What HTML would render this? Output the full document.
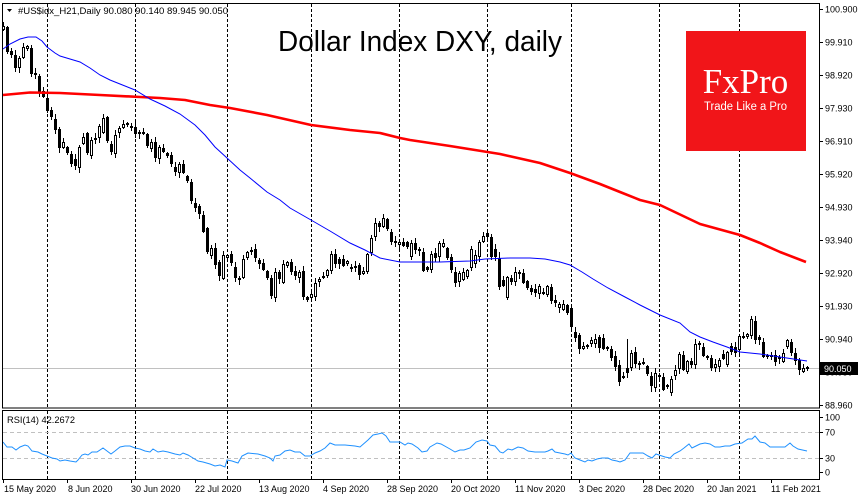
<!DOCTYPE html>
<html><head><meta charset="utf-8">
<style>
html,body{margin:0;padding:0;background:#fff;}
#c{width:860px;height:500px;overflow:hidden;position:relative;}
svg text{font-family:"Liberation Sans",sans-serif;}
</style></head><body>
<div id="c">
<svg xmlns="http://www.w3.org/2000/svg" width="860" height="500" viewBox="0 0 860 500">
<rect x="0" y="0" width="860" height="500" fill="#fff"/>

<!-- vertical dashed grid -->
<g stroke="#000" stroke-width="1" stroke-dasharray="3,2" shape-rendering="crispEdges">
<line x1="47.5" y1="4" x2="47.5" y2="408"/><line x1="47.5" y1="411" x2="47.5" y2="479"/>
<line x1="135.5" y1="4" x2="135.5" y2="408"/><line x1="135.5" y1="411" x2="135.5" y2="479"/>
<line x1="227.5" y1="4" x2="227.5" y2="408"/><line x1="227.5" y1="411" x2="227.5" y2="479"/>
<line x1="311.5" y1="4" x2="311.5" y2="408"/><line x1="311.5" y1="411" x2="311.5" y2="479"/>
<line x1="399.5" y1="4" x2="399.5" y2="408"/><line x1="399.5" y1="411" x2="399.5" y2="479"/>
<line x1="487.5" y1="4" x2="487.5" y2="408"/><line x1="487.5" y1="411" x2="487.5" y2="479"/>
<line x1="571.5" y1="4" x2="571.5" y2="408"/><line x1="571.5" y1="411" x2="571.5" y2="479"/>
<line x1="659.5" y1="4" x2="659.5" y2="408"/><line x1="659.5" y1="411" x2="659.5" y2="479"/>
<line x1="739.5" y1="4" x2="739.5" y2="408"/><line x1="739.5" y1="411" x2="739.5" y2="479"/>
</g>

<!-- RSI levels -->
<g stroke="#c0c0c0" stroke-width="1" stroke-dasharray="4,3" shape-rendering="crispEdges">
<line x1="3" y1="432.5" x2="819" y2="432.5"/>
<line x1="3" y1="458.5" x2="819" y2="458.5"/>
</g>

<!-- current price line -->
<line x1="3" y1="368.5" x2="819" y2="368.5" stroke="#c0c0c0" stroke-width="1" shape-rendering="crispEdges"/>

<!-- title -->
<text x="278" y="51" font-size="29" textLength="284" lengthAdjust="spacingAndGlyphs" fill="#000">Dollar Index DXY, daily</text>

<!-- candles -->
<g id="cd" shape-rendering="crispEdges"></g>

<!-- moving averages -->
<polyline fill="none" stroke="#ff0000" stroke-width="2.6" stroke-linejoin="round" points="3,95 30,92.5 60,93 100,95 140,97 160,98 185,100 210,105 230,108 267,115 311,125 350,130 380,133 400,138 410,140 450,146 500,154 540,163 570,173 600,184 620,192 640,200 660,205 700,224 740,235 760,243 780,252 806,262"/>
<polyline fill="none" stroke="#0000ff" stroke-width="1" points="3,49 10,44 20,39 28,37 36,37 42,41 47,47 55,53 60,56 70,59 80,62 90,68 100,75 110,80 120,84 135,90 150,99 165,106 180,114 195,125 205,135 215,147 227,158 240,170 250,178 267,192 280,200 290,208 311,220 330,231 350,243 365,250 380,258 400,262 440,262 470,261 485,259 510,258 530,258 545,259 560,262 570,265 582,272 593,279 608,288 625,297 640,305 660,315 680,323 690,332 700,337 713,342 727,347 740,352 760,354 780,357 807,361"/>

<!-- RSI line -->
<polyline fill="none" stroke="#1e90ff" stroke-width="1" points="3,442 7,447 12,447 16,450 20,447 25,445 28,446 32,451 38,452 42,454 47,456 52,458 57,459 60,461 65,460 70,461 76,462 78,460 82,455 85,454 88,455 92,452 97,452 103,448 107,451 111,454 115,451 120,447 125,446 130,446 135,448 140,449 145,451 150,452 153,449 158,452 163,451 168,452 175,454 180,455 183,453 188,455 193,458 198,461 203,462 210,464 215,466 220,465 225,467 227,460 232,461 238,463 242,456 248,453 258,454 265,456 270,458 273,461 275,456 280,455 285,451 290,450 295,452 300,452 305,456 310,456 315,453 320,451 325,448 330,443 335,445 345,445 355,446 360,447 368,440 373,435 378,434 382,433 386,436 390,442 395,442 400,442 405,445 408,443 412,444 418,448 422,452 427,451 430,447 437,443 441,444 450,449 455,452 460,450 464,450 470,448 476,442 482,440 487,441 490,445 495,446 500,452 503,453 508,449 512,450 518,447 523,448 528,451 535,452 545,452 548,451 552,449 555,452 560,453 565,454 568,455 571,453 575,458 580,460 585,462 588,460 592,461 597,459 602,458 608,458 612,460 617,461 620,462 625,460 630,453 635,453 643,453 648,456 652,458 656,454 662,456 665,457 670,458 674,454 680,451 684,448 689,444 692,448 696,446 700,444 705,443 710,444 715,447 720,447 725,446 730,446 735,444 742,443 748,439 752,439 755,436 760,442 765,443 770,447 780,447 785,447 790,443 793,446 798,449 807,451"/>

<!-- frames -->
<g fill="none" stroke="#000" stroke-width="1" shape-rendering="crispEdges">
<rect x="2.5" y="3.5" width="817" height="404.5"/>
<rect x="2.5" y="410.5" width="817" height="69"/>
</g>

<!-- right axis ticks -->
<g stroke="#000" stroke-width="1" shape-rendering="crispEdges">
<line x1="819" y1="9.5" x2="823" y2="9.5"/>
<line x1="819" y1="42.5" x2="823" y2="42.5"/>
<line x1="819" y1="75.5" x2="823" y2="75.5"/>
<line x1="819" y1="108.5" x2="823" y2="108.5"/>
<line x1="819" y1="141.5" x2="823" y2="141.5"/>
<line x1="819" y1="174.5" x2="823" y2="174.5"/>
<line x1="819" y1="207.5" x2="823" y2="207.5"/>
<line x1="819" y1="240.5" x2="823" y2="240.5"/>
<line x1="819" y1="273.5" x2="823" y2="273.5"/>
<line x1="819" y1="306.5" x2="823" y2="306.5"/>
<line x1="819" y1="339.5" x2="823" y2="339.5"/>
<line x1="819" y1="405.5" x2="823" y2="405.5"/>
<line x1="819" y1="417.5" x2="823" y2="417.5"/>
<line x1="819" y1="432.5" x2="823" y2="432.5"/>
<line x1="819" y1="458.5" x2="823" y2="458.5"/>
<line x1="819" y1="472.5" x2="823" y2="472.5"/>
</g>

<!-- bottom ticks -->
<g stroke="#000" stroke-width="1" shape-rendering="crispEdges">
<line x1="3.5" y1="479" x2="3.5" y2="483"/>
<line x1="67.5" y1="479" x2="67.5" y2="483"/>
<line x1="131.5" y1="479" x2="131.5" y2="483"/>
<line x1="195.5" y1="479" x2="195.5" y2="483"/>
<line x1="259.5" y1="479" x2="259.5" y2="483"/>
<line x1="323.5" y1="479" x2="323.5" y2="483"/>
<line x1="387.5" y1="479" x2="387.5" y2="483"/>
<line x1="451.5" y1="479" x2="451.5" y2="483"/>
<line x1="515.5" y1="479" x2="515.5" y2="483"/>
<line x1="579.5" y1="479" x2="579.5" y2="483"/>
<line x1="643.5" y1="479" x2="643.5" y2="483"/>
<line x1="707.5" y1="479" x2="707.5" y2="483"/>
<line x1="771.5" y1="479" x2="771.5" y2="483"/>
</g>

<!-- price axis labels -->
<g font-size="9" fill="#000">
<text x="825" y="12.5">100.900</text>
<text x="825" y="45.5">99.910</text>
<text x="825" y="78.5">98.920</text>
<text x="825" y="111.5">97.930</text>
<text x="825" y="144.5">96.910</text>
<text x="825" y="177.5">95.920</text>
<text x="825" y="210.5">94.930</text>
<text x="825" y="243.5">93.940</text>
<text x="825" y="276.5">92.920</text>
<text x="825" y="309.5">91.930</text>
<text x="825" y="342.5">90.940</text>
<text x="825" y="375.5">89.950</text>
<text x="825" y="408.5">88.960</text>
<text x="825" y="420.5">100</text>
<text x="825" y="435.5">70</text>
<text x="825" y="461.5">30</text>
<text x="825" y="475.5">0</text>
</g>

<!-- current price box -->
<rect x="820" y="362" width="38" height="13" fill="#000"/>
<text x="824" y="372" font-size="9" fill="#fff">90.050</text>

<!-- date labels -->
<g font-size="9" fill="#000">
<text x="4" y="492">15 May 2020</text>
<text x="68" y="492">8 Jun 2020</text>
<text x="131" y="492">30 Jun 2020</text>
<text x="195" y="492">22 Jul 2020</text>
<text x="259" y="492">13 Aug 2020</text>
<text x="323" y="492">4 Sep 2020</text>
<text x="387" y="492">28 Sep 2020</text>
<text x="451" y="492">20 Oct 2020</text>
<text x="515" y="492">11 Nov 2020</text>
<text x="579" y="492">3 Dec 2020</text>
<text x="643" y="492">28 Dec 2020</text>
<text x="707" y="492">20 Jan 2021</text>
<text x="771" y="492">11 Feb 2021</text>
</g>

<!-- header -->
<polygon points="7,9 12,9 9.5,12" fill="#000"/>
<text x="18" y="14" font-size="9" fill="#000" textLength="210" lengthAdjust="spacingAndGlyphs">#US$idx_H21,Daily  90.080 90.140 89.945 90.050</text>
<text x="7" y="423" font-size="9" fill="#000" textLength="68" lengthAdjust="spacingAndGlyphs">RSI(14) 42.2672</text>

<!-- logo -->
<rect x="686" y="31" width="120" height="120" fill="#f11519"/>
<text x="745.5" y="93" font-size="35" fill="#fff" text-anchor="middle" style="font-family:'Liberation Serif',serif">FxPro</text>
<text x="704" y="110" font-size="11.5" fill="#fff" textLength="83" lengthAdjust="spacingAndGlyphs">Trade Like a Pro</text>
</svg>
</div>
<script>
(function(){
var d="w26,30 b27,52 b51,55 b55,68 w58,68 w47,58 w46,49 b48,74 b73,75 b76,92 b91,97 b98,111 b110,117 b119,130 b129,148 w142,148 b147,153 b154,164 b159,166 w147,168 w137,144 b133,153 w140,156 w138,140 w126,138 w118,133 b117,141 b144,152 w135,154 w128,133 w124,128 b123,125 w126,128 b127,134 w132,134 b132,134 b134,146 w142,149 b142,158 w147,159 b148,152 b153,156 b155,164 b167,172 w164,173 b164,173 b176,181 b182,201 b203,208 b206,214 b215,232 b228,252 w248,256 b248,265 b262,276 w255,279 w255,258 b254,263 b267,278 b278,280 w259,278 w252,258 w250,252 b249,258 b260,264 b263,270 b271,278 b278,296 w272,298 b272,279 w264,283 w262,266 b262,272 b271,276 w272,278 b271,297 b297,300 w294,298 w283,297 w279,282 b276,278 w270,276 w254,271 b254,264 b259,264 b259,266 w261,264 b267,269 b266,268 b265,275 w271,274 w254,272 w238,253 w223,237 b223,227 w218,227 b219,229 b232,242 b241,243 w242,245 b242,246 b242,247 w243,257 b243,250 b249,251 b252,271 b267,270 w254,270 b253,258 w243,257 w243,247 b248,258 b257,270 b272,283 w273,282 w272,280 w270,277 w249,268 w255,264 w242,257 w236,242 b233,237 b237,257 b249,257 b258,287 b280,286 w277,298 b278,282 w272,282 b272,274 b273,283 b281,288 b288,292 b289,293 w286,294 w292,294 w286,295 b287,301 b300,303 w304,308 w304,310 b305,313 b308,327 b332,338 b335,349 w346,349 w345,347 w340,344 w339,344 b337,348 b338,349 b347,349 b349,358 b356,367 b365,382 b376,378 b368,373 w353,368 b352,364 w363,365 b362,364 b366,374 b376,386 w373,388 b375,377 b377,390 b385,387 w379,393 w370,376 w354,369 b355,370 w361,372 b361,365 w344,365 b343,345 b347,356 w356,358 b358,368 w364,368 w360,367 b354,359 w352,365 b346,352 b347,353 w336,350 b336,338 w334,337 w319,336 b321,340 b337,340 b342,357 b355,357 b355,357 b355,362 b357,359 w353,362 w340,347 b342,353 b353,361 b360,370 w368,372 b367,369".split(" ");
var ov={627:[339,378],303:[266,300],499:[252,290],619:[360,386],275:[268,302],651:[372,392]};
var s="";
for(var i=0;i<d.length;i++){
 var x=3+4*i,c=d[i].charAt(0),p=d[i].slice(1).split(","),t=+p[0],b=+p[1];
 var h1=1+((i*7+3)%5),h2=1+((i*11+5)%5);
 var hi=t-h1,lo=b+h2;
 if(ov[x]){hi=ov[x][0];lo=ov[x][1];}
 s+='<line x1="'+(x+0.5)+'" y1="'+hi+'" x2="'+(x+0.5)+'" y2="'+lo+'" stroke="#000" stroke-width="1"/>';
 if(c==='b'){
  s+='<rect x="'+(x-1)+'" y="'+t+'" width="3" height="'+Math.max(1,b-t)+'" fill="#000"/>';
 }else{
  if(b-t<2){s+='<rect x="'+(x-1)+'" y="'+t+'" width="3" height="1" fill="#000"/>';}
  else s+='<rect x="'+(x-0.5)+'" y="'+(t+0.5)+'" width="2" height="'+(b-t-1)+'" fill="#fff" stroke="#000" stroke-width="1"/>';
 }
}
document.getElementById("cd").innerHTML=s;
})();
</script>
</body></html>
